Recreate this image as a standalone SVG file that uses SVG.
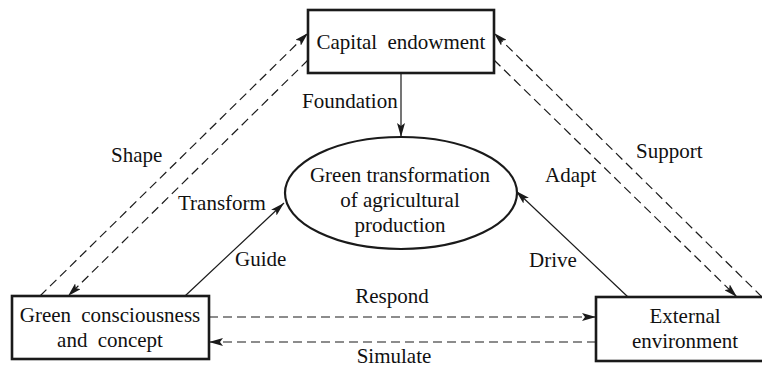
<svg xmlns="http://www.w3.org/2000/svg" width="762" height="375" viewBox="0 0 762 375">
<style>
text{font-family:"Liberation Serif","Times New Roman",serif;font-size:21px;fill:#111;}
.c{text-anchor:middle;}
.box{fill:#fff;stroke:#1a1a1a;stroke-width:2.6;}
.ell{fill:#fff;stroke:#1a1a1a;stroke-width:2.2;}
.s{fill:none;stroke:#1a1a1a;stroke-width:1.2;}
.d{fill:none;stroke:#1a1a1a;stroke-width:1.2;stroke-dasharray:9 5;}
</style>
<defs>
<marker id="ah" viewBox="0 0 14 8" refX="14" refY="4" markerWidth="14" markerHeight="8" markerUnits="userSpaceOnUse" orient="auto">
<path d="M0,0 L14,4 L0,8 L3,4 Z" fill="#1a1a1a"/>
</marker>
</defs>
<g id="connectors">
<line class="s" x1="401" y1="73" x2="401" y2="137" marker-end="url(#ah)"/>
<line class="s" x1="185" y1="296" x2="284" y2="203" marker-end="url(#ah)"/>
<line class="s" x1="628" y1="297" x2="516" y2="191" marker-end="url(#ah)"/>
<line class="d" x1="40" y1="296" x2="308" y2="33" marker-end="url(#ah)"/>
<line class="d" x1="308" y1="60" x2="68" y2="296" marker-end="url(#ah)"/>
<line class="d" x1="762" y1="297" x2="494" y2="33" marker-end="url(#ah)"/>
<line class="d" x1="494" y1="60" x2="737" y2="297" marker-end="url(#ah)"/>
<line class="d" x1="209" y1="317" x2="596" y2="317" marker-end="url(#ah)"/>
<line class="d" x1="596" y1="342" x2="209" y2="342" marker-end="url(#ah)"/>
</g>
<g id="labels">
<text x="302" y="108">Foundation</text>
<text x="111" y="162">Shape</text>
<text x="178" y="210">Transform</text>
<text x="235" y="266">Guide</text>
<text x="545" y="182">Adapt</text>
<text x="529" y="267">Drive</text>
<text x="636" y="158">Support</text>
<text class="c" x="392" y="303">Respond</text>
<text class="c" x="394" y="363">Simulate</text>
</g>
<g id="capital">
<rect class="box" x="308" y="10" width="186" height="63"/>
<text class="c" x="401" y="49" word-spacing="5">Capital endowment</text>
</g>
<g id="green-transformation">
<ellipse class="ell" cx="401" cy="193" rx="116" ry="56"/>
<text class="c" x="400" y="182">Green transformation</text>
<text class="c" x="400" y="207">of agricultural</text>
<text class="c" x="400" y="232">production</text>
</g>
<g id="green-consciousness">
<rect class="box" x="12" y="296" width="197" height="63"/>
<text class="c" x="110" y="322" word-spacing="5">Green consciousness</text>
<text class="c" x="110" y="347" word-spacing="5">and concept</text>
</g>
<g id="external">
<rect class="box" x="596" y="297" width="172" height="64"/>
<text class="c" x="685" y="323">External</text>
<text class="c" x="685" y="348">environment</text>
</g>
</svg>
